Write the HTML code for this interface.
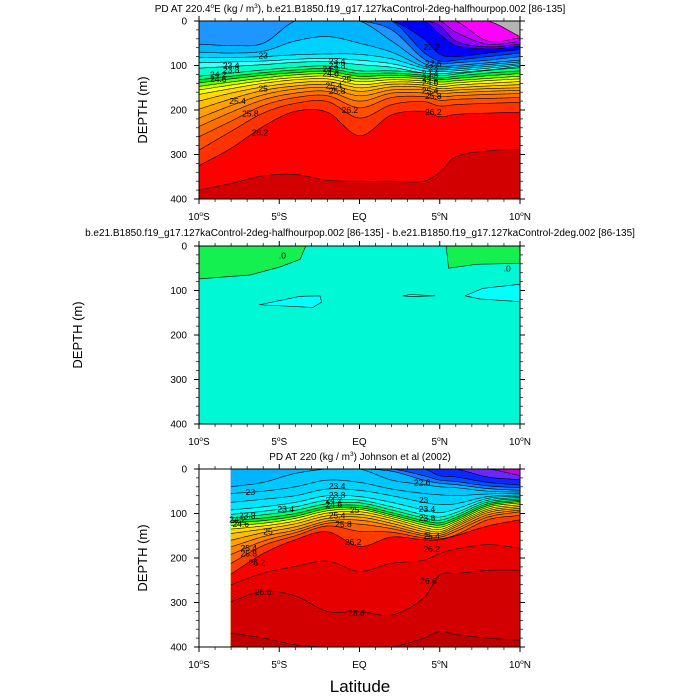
<!DOCTYPE html>
<html><head><meta charset="utf-8">
<style>
html,body{margin:0;padding:0;background:#fff;}
svg{display:block;font-family:"Liberation Sans",sans-serif;}
</style></head>
<body>
<svg id="chart" width="700" height="700" viewBox="0 0 700 700" xmlns="http://www.w3.org/2000/svg">
<g id="root"></g>
</svg>
<script>
// ---------- Panel 1 data (model) ----------
const lats1 = [-10,-8,-6,-4,-2,0,2,4,5,6,8,10];
const depths1 = [
 [0,0,0,0,0,0,0,0,0,0,0,35],
 [0,0,0,0,0,0,0,0,0,0,45,38],
 [0,0,0,0,0,0,0,0,0,25,52,46],
 [0,0,0,0,0,0,0,0,10,45,58,52],
 [0,0,0,0,0,0,0,0,30,55,63,57],
 [0,0,0,0,0,0,0,40,75,80,72,64],
 [0,0,0,0,0,0,0,70,90,88,80,72],
 [0,0,0,0,0,0,20,85,96,94,88,80],
 [52,55,50,0,0,0,45,95,102,100,94,88],
 [70,72,68,45,35,50,70,102,106,104,98,92],
 [82,82,80,76,74,75,85,106,110,108,102,96],
 [94,92,90,86,84,88,96,112,114,112,106,99],
 [106,102,98,93,91,98,104,117,118,116,110,102],
 [124,117,110,104,101,112,112,117,123,119,111,105],
 [132,124,116,110,107,118,117,122,128,124,117,112],
 [139,130,122,116,113,124,122,126,132,129,123,118],
 [147,137,128,121,119,130,127,130,137,134,129,124],
 [155,144,134,127,124,136,132,135,142,139,134,130],
 [165,152,140,132,130,143,137,139,147,144,140,136],
 [180,162,148,139,136,150,142,144,152,150,146,143],
 [198,175,156,146,143,158,148,149,157,155,152,150],
 [218,190,166,153,150,168,155,155,163,161,158,156],
 [237,205,177,162,158,180,162,162,170,168,165,163],
 [260,225,190,172,168,195,172,170,178,176,174,172],
 [290,248,207,185,181,218,188,181,191,188,185,183],
 [325,286,237,203,205,258,211,203,215,210,207,205],
 [380,365,348,345,358,360,360,360,340,305,292,288]
];
const colors1 = ['#b4b4b4','#ff00ff','#c800ff','#9600ff','#5000ff','#0000ff','#0032ff','#0064ff','#1e96ff','#00b4ff','#00d2ff','#00f0ff','#40ffff','#00ffc8','#00ff80','#00e632','#64ff00','#c8ff00','#ffff00','#ffdc00','#ffbe00','#ffa000','#ff8c00','#ff6e00','#ff5000','#ff3200','#ff0000','#d20000'];
const labels1 = [['23',-6,77],['23.4',-8,100],['23.8',-8,110],['24.2',-8.8,120],['24.6',-8.8,130],['25',-6,152],['25.4',-7.6,180],['25.8',-6.8,208],['26.2',-6.2,250],
 ['23.4',-1.4,90],['23.8',-1.4,100],['24.2',-1.8,108],['24.6',-1.8,118],['25',-0.8,130],['25.4',-1.6,145],['25.8',-1.4,157],['26.2',-0.6,200],
 ['22.2',4.5,58],['22.6',4.6,95],['23',4.6,105],['23.4',4.4,118],['24.2',4.4,128],['24.6',4.4,138],['25.4',4.4,156],['25.8',4.6,168],['26.2',4.6,205]];

// ---------- Panel 2 data (difference) ----------
const greenLeftLat = [-10,-10,-3.35,-3.7,-4.95,-6.8,-10];
const greenLeftDep = [0,0,0,30,47,65,74];
const greenRightLat = [5.4,10,10,7.3,5.55,5.4];
const greenRightDep = [0,0,39,41,50,0];
const blobALat = [-6.24,-3.7,-2.46,-2.36,-2.9,-6.24];
const blobADep = [132,113,112,126,138,132];
const blobBLat = [6.57,7.7,10,10,7.5,6.57];
const blobBDep = [112,95,86,125,119,112];
const blobCLat = [2.7,3.2,4.7,3.2,2.7];
const blobCDep = [112,109,112,114,112];

// ---------- Panel 3 data (observations) ----------
const lats3 = [-8,-6,-4,-2,0,2,4,5,6,8,10];
const depths3 = [
 [0,0,0,0,0,0,0,0,0,0,15],
 [0,0,0,0,0,0,0,0,0,18,24],
 [0,0,0,0,0,0,0,15,18,30,36],
 [0,0,0,0,0,0,15,25,28,38,42],
 [0,0,0,0,0,5,25,32,35,44,48],
 [40,30,10,0,0,25,35,40,42,50,52],
 [55,50,40,25,30,45,55,58,60,56,55],
 [75,68,60,45,48,60,75,80,78,62,58],
 [92,85,75,60,62,75,92,98,90,66,61],
 [102,95,85,70,70,85,103,108,98,70,64],
 [110,103,93,78,76,92,110,115,104,74,67],
 [116,110,100,84,82,98,116,121,109,78,70],
 [121,116,106,89,87,103,121,126,114,82,73],
 [127,122,111,94,91,107,126,131,118,86,76],
 [135,128,117,99,96,111,131,136,122,90,80],
 [145,135,123,105,102,116,136,141,126,94,84],
 [160,143,130,111,108,122,141,145,130,98,88],
 [175,152,137,117,115,128,146,149,135,103,92],
 [192,162,143,122,124,134,150,153,140,108,96],
 [212,172,150,128,140,142,155,157,148,114,104],
 [236,190,159,141,174,153,159,159,150,128,114],
 [260,234,219,207,230,212,205,190,180,170,178],
 [298,275,285,320,320,328,290,238,235,228,227],
 [369,380,395,400,400,400,380,365,372,380,385]
];
const colors3 = ['#c800dc','#6a28ff','#0a28ff','#0050ff','#1e78ff','#00b4ff','#00c8ff','#00d2ff','#00e6ff','#00ffff','#00ffc8','#00ff78','#00e632','#78ff00','#ffff00','#ffdc00','#ffbe00','#ffa000','#ff8200','#ff6400','#ff3c00','#ff0000','#e60000','#d20000','#be0000'];
const labels3 = [['23',-6.8,52],['23.4',-4.6,90],['23.8',-7,104],['24.2',-7.6,114],['24.6',-7.4,124],['25',-5.7,140],['25.4',-6.9,178],['25.8',-6.9,190],['26.2',-6.4,210],['26.6',-6,276],
 ['23.4',-1.4,38],['23.8',-1.4,58],['24.2',-1.6,70],['24.6',-1.6,80],['25',-0.3,92],['25.4',-1.4,104],['25.8',-1,124],['26.2',-0.4,164],['26.6',-0.2,324],
 ['22.6',3.9,30],['23',4,70],['23.4',4.2,90],['23.8',4.2,110],['25.4',4.5,150],['26.2',4.5,180],['26.6',4.3,252]];

const latTicks = [-10,-5,0,5,10];
const latTickText = [['10','S'],['5','S'],['EQ',''],['5','N'],['10','N']];
const depthTicks = [0,100,200,300,400];

const NS='http://www.w3.org/2000/svg';
const root=document.getElementById('root');
function mk(tag,attrs,parent){const e=document.createElementNS(NS,tag);for(const k in attrs)e.setAttribute(k,attrs[k]);(parent||root).appendChild(e);return e;}

function makeAxes(P){
  return {x:lat=>P.x0+(lat+10)/20*(P.x1-P.x0), y:d=>P.y0+d/400*(P.y1-P.y0)};
}
function hermite(ls,vs,lat){
  let n=ls.length;
  if(lat<=ls[0])return vs[0];
  if(lat>=ls[n-1])return vs[n-1];
  let i=0;while(i<n-2&&lat>ls[i+1])i++;
  const h=ls[i+1]-ls[i],t=(lat-ls[i])/h;
  const m=j=>{const a=Math.max(0,j-1),b=Math.min(n-1,j+1);return (vs[b]-vs[a])/(ls[b]-ls[a])*h;};
  const m0=m(i),m1=m(i+1),t2=t*t,t3=t2*t;
  return (2*t3-3*t2+1)*vs[i]+(t3-2*t2+t)*m0+(-2*t3+3*t2)*vs[i+1]+(t3-t2)*m1;
}

function drawContourPanel(P,lats,depths,colors,labels,name){
  const ax=makeAxes(P);
  const g=mk('g',{});
  
  
  const latMin=lats[0];
  const samples=[];for(let l=latMin;l<=10.0001;l+=0.1)samples.push(Math.min(l,10));
  let prev=samples.map(()=>0);
  const curves=[];
  depths.forEach(row=>{
    const c=samples.map((l,j)=>Math.min(400,Math.max(prev[j],hermite(lats,row,l))));
    curves.push(c);prev=c;
  });
  const bg=mk('rect',{x:ax.x(latMin),y:P.y0,width:ax.x(10)-ax.x(latMin),height:P.y1-P.y0,fill:colors[0]},g);
  
  
  curves.forEach((c,k)=>{
    let d='M'+samples.map((l,j)=>ax.x(l).toFixed(2)+','+ax.y(c[j]).toFixed(2)).join(' L');
    d+=' L'+ax.x(10)+','+P.y1+' L'+ax.x(latMin)+','+P.y1+' Z';
    const p=mk('path',{d:d,fill:colors[k+1],stroke:colors[k+1],'stroke-width':0.3},g);
    
    
  });
  curves.forEach((c,k)=>{
    const pts=samples.map((l,j)=>ax.x(l).toFixed(2)+','+ax.y(c[j]).toFixed(2)).join(' ');
    const pl=mk('polyline',{points:pts,fill:'none',stroke:'#000','stroke-width':0.6},g);
    
    
  });
  labels.forEach(lb=>{
    const t=mk('text',{x:ax.x(lb[1]),y:ax.y(lb[2])+3,'font-size':8.5,'text-anchor':'middle',fill:'#000'},g);
    t.textContent=lb[0];
    
    
  });
}

function drawPoly(ax,lats,deps,fill,name,g){
  const pts=lats.map((l,i)=>ax.x(l).toFixed(2)+','+ax.y(deps[i]).toFixed(2)).join(' ');
  const p=mk('polygon',{points:pts,fill:fill,stroke:'#000','stroke-width':0.6,'stroke-linejoin':'round'},g);
  
  
}

function drawFrame(P,name,title,titleY,depthLabelX){
  const ax=makeAxes(P);
  const g=mk('g',{});
  
  
  const f=mk('rect',{x:P.x0,y:P.y0,width:P.x1-P.x0,height:P.y1-P.y0,fill:'none',stroke:'#000','stroke-width':1},g);
  
  
  for(let d=0;d<=400;d+=20){
    const y=ax.y(d),major=d%100===0;
    mk('line',{x1:P.x0-(major?5:3),y1:y,x2:P.x0,y2:y,stroke:'#000','stroke-width':major?1:0.7},g);
    mk('line',{x1:P.x1,y1:y,x2:P.x1+(major?5:3),y2:y,stroke:'#000','stroke-width':major?1:0.7},g);
  }
  for(let l=-10;l<=10;l++){
    const x=ax.x(l),major=l%5===0;
    mk('line',{x1:x,y1:P.y1,x2:x,y2:P.y1+(major?5:3),stroke:'#000','stroke-width':major?1:0.7},g);
    mk('line',{x1:x,y1:P.y0-(major?5:3),x2:x,y2:P.y0,stroke:'#000','stroke-width':major?1:0.7},g);
  }
  depthTicks.forEach(d=>{
    const t=mk('text',{x:P.x0-12,y:ax.y(d)+3.5,'font-size':10,'text-anchor':'end'},g);
    t.textContent=d;
    
    
  });
  latTicks.forEach((l,i)=>{
    const t=mk('text',{x:ax.x(l),y:P.y1+21,'font-size':10,'text-anchor':'middle'},g);
    
    
    const tt=latTickText[i];
    const a=mk('tspan',{},t);a.textContent=tt[0];
    if(tt[1]){const o=mk('tspan',{'font-size':6.5,dy:-4},t);o.textContent='o';const b=mk('tspan',{dy:4},t);b.textContent=tt[1];}
  });
  const dl=mk('text',{x:depthLabelX,y:(P.y0+P.y1)/2,'font-size':13,'text-anchor':'middle',transform:'rotate(-90 '+depthLabelX+' '+((P.y0+P.y1)/2)+')'},g);
  dl.textContent='DEPTH (m)';
  
  
  const ti=mk('text',{x:360,y:titleY,'font-size':10,'text-anchor':'middle'},g);
  
  
  title.forEach(s=>{const ts=mk('tspan',s[1]?{'font-size':6.5,dy:-4}:{dy:s[2]||0},ti);ts.textContent=s[0];});
}

const P1={x0:199,x1:520,y0:21,y1:199};
const P2={x0:199,x1:520,y0:246,y1:424};
const P3={x0:199,x1:520,y0:469,y1:647};

drawContourPanel(P1,lats1,depths1,colors1,labels1,'model-panel');
(function(){
  const ax=makeAxes(P2);
  const g=mk('g',{});
  
  
  const bg=mk('rect',{x:P2.x0,y:P2.y0,width:P2.x1-P2.x0,height:P2.y1-P2.y0,fill:'#00f8d4'},g);
  
  
  drawPoly(ax,greenLeftLat,greenLeftDep,'#14f050','green-region-left',g);
  drawPoly(ax,greenRightLat,greenRightDep,'#14f050','green-region-right',g);
  drawPoly(ax,blobALat,blobADep,'#00ffff','cyan-region-a',g);
  drawPoly(ax,blobBLat,blobBDep,'#00ffff','cyan-region-b',g);
  drawPoly(ax,blobCLat,blobCDep,'#00ffff','cyan-region-c',g);
  [['0',-4.8,28],['0',9.2,57]].forEach(lb=>{
    const t=mk('text',{x:ax.x(lb[1]),y:ax.y(lb[2]),'font-size':8.5,'text-anchor':'middle'},g);
    t.textContent='.'+lb[0];
    
    
  });
})();
drawContourPanel(P3,lats3,depths3,colors3,labels3,'obs-panel');

drawFrame(P1,'model-panel',[['PD AT 220.4'],['o',1],['E (kg / m',0,4],['3',1],['), b.e21.B1850.f19_g17.127kaControl-2deg-halfhourpop.002 [86-135]',0,4]],12,147);
drawFrame(P2,'difference-panel',[['b.e21.B1850.f19_g17.127kaControl-2deg-halfhourpop.002 [86-135] - b.e21.B1850.f19_g17.127kaControl-2deg.002 [86-135]']],236,82);
drawFrame(P3,'obs-panel',[['PD AT 220 (kg / m'],['3',1],[') Johnson et al (2002)',0,4]],460,147);

const xl=mk('text',{x:360,y:692,'font-size':17,'text-anchor':'middle'});
xl.textContent='Latitude';


</script>
</body></html>
